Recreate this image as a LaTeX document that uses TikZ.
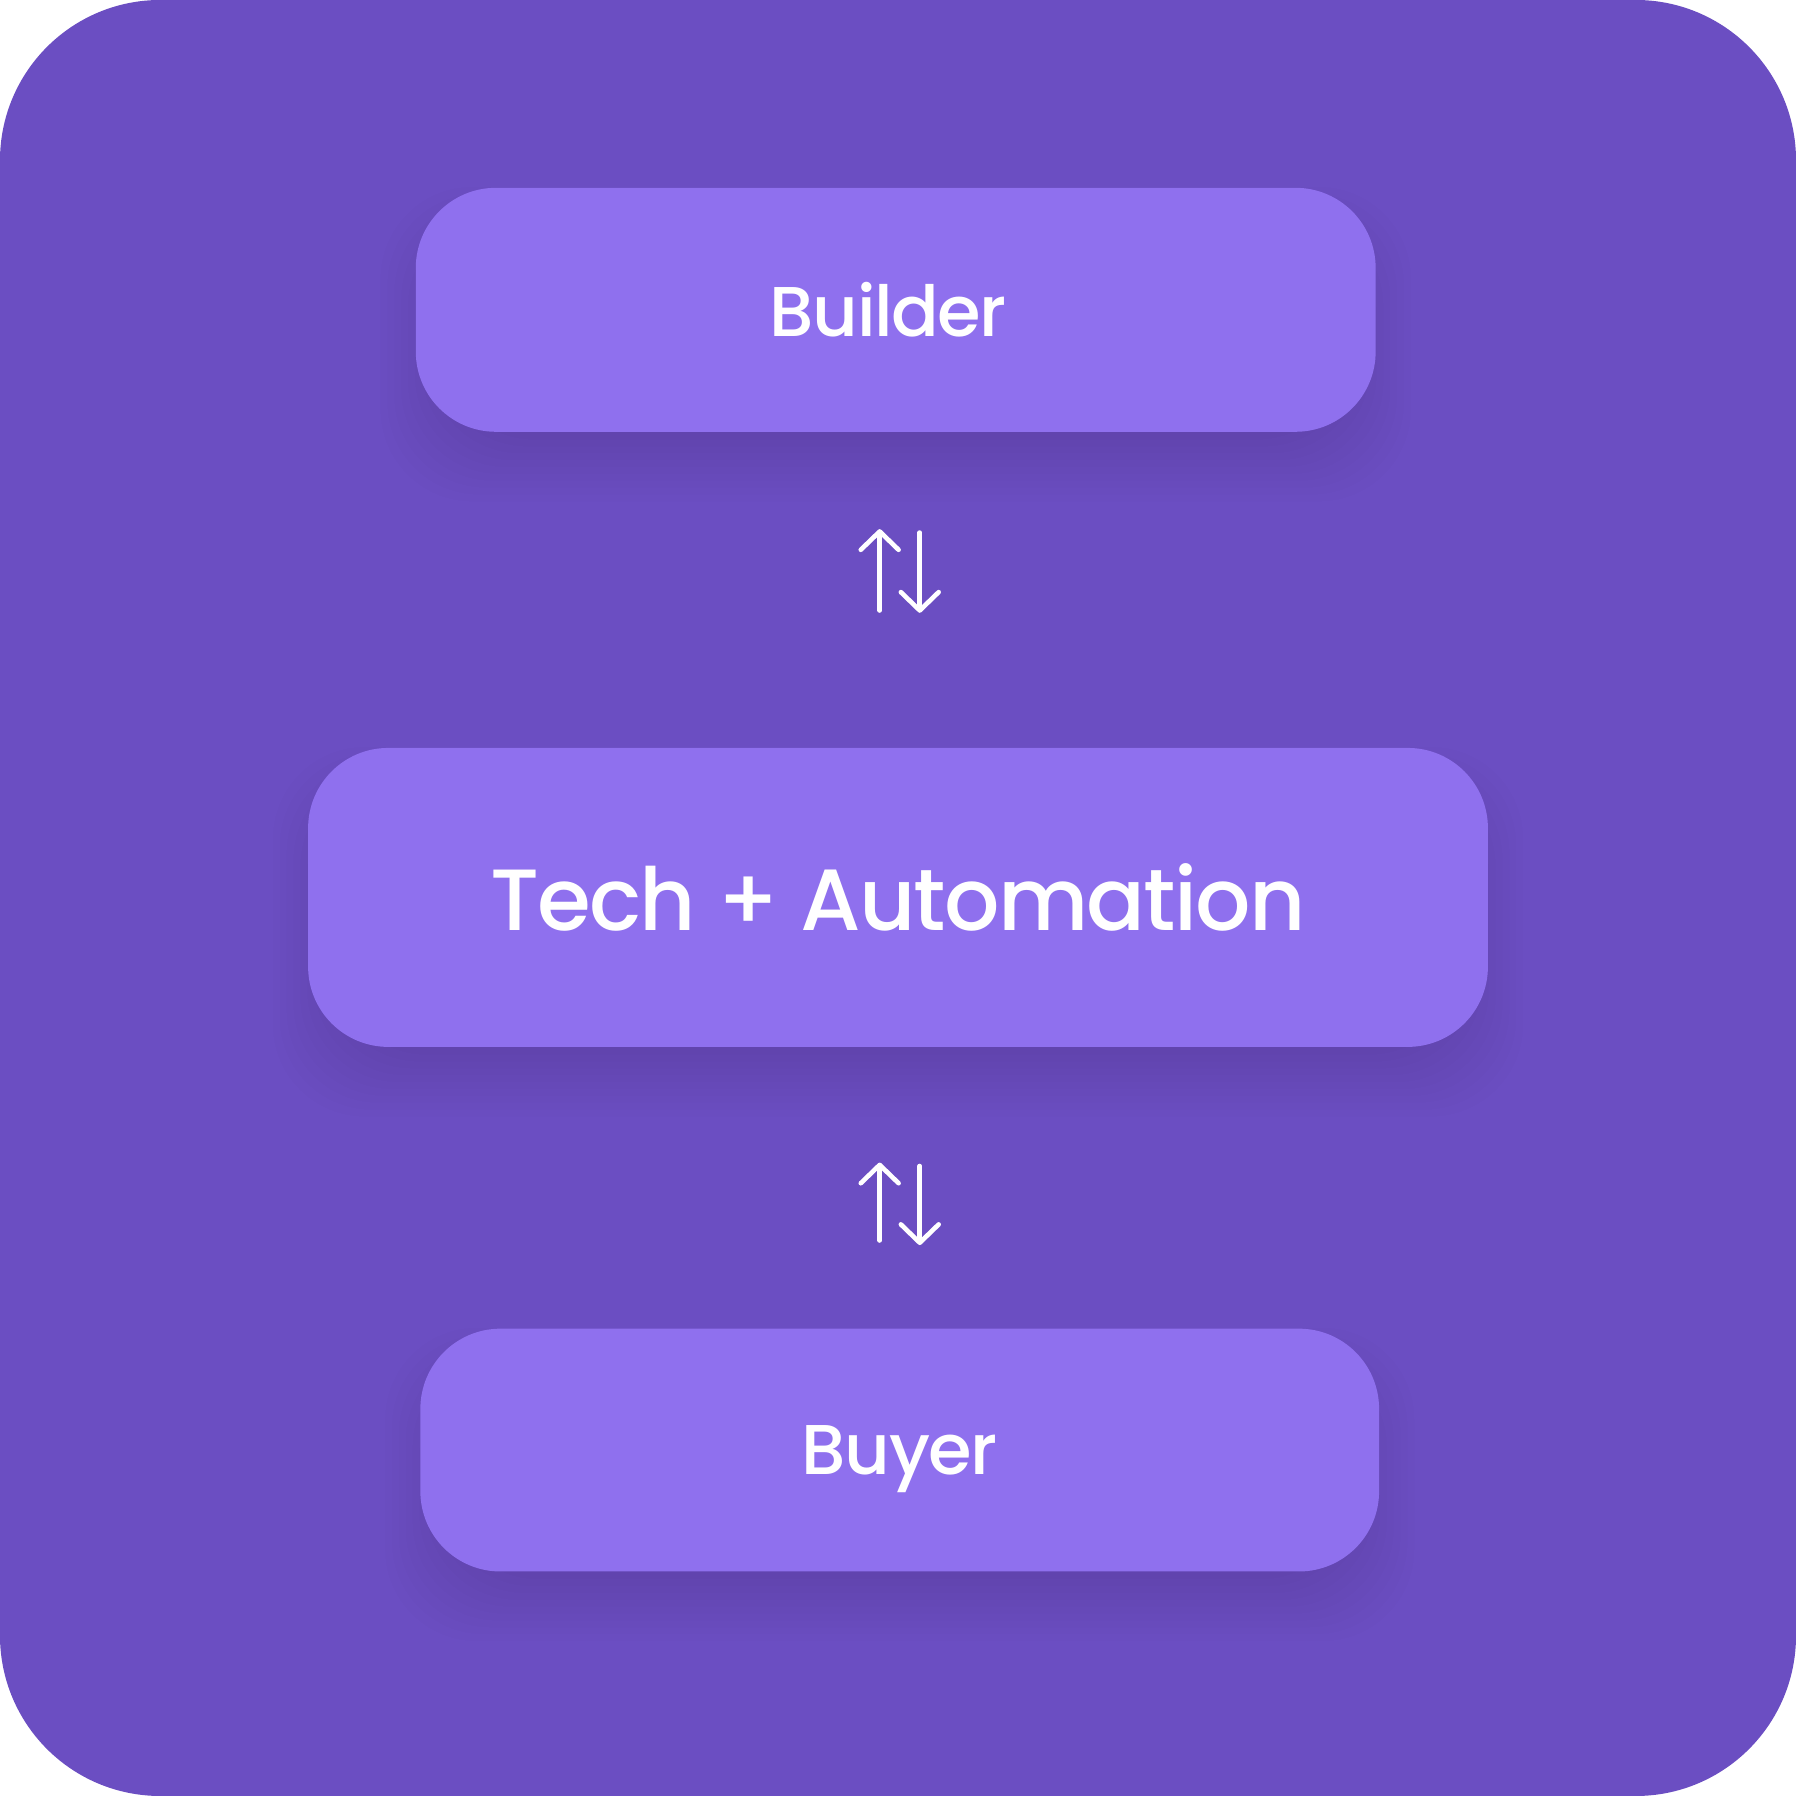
\documentclass[tikz,border=0pt]{standalone}
\usepackage{fontspec}
\setmainfont{Poppins Medium}[LetterSpace=-2]
\usetikzlibrary{arrows.meta,calc}

\definecolor{canvasbg}{HTML}{6B4EC2}
\definecolor{boxfill}{HTML}{8F70EE}

\pgfdeclarelayer{back}
\pgfdeclarelayer{shade}
\pgfsetlayers{back,shade,main}

\tikzset{
  stage/.style={fill=boxfill,rounded corners=0.7cm,inner sep=0pt,text=white},
  flow/.style={draw=white,line width=1.15pt,line cap=round,line join=round,
    -{Straight Barb[length=1.6mm,width=3.3mm,line cap=round,line join=round]}}
}

\newcommand{\softshadow}[1]{%
  \foreach \k in {-4,...,5}{
    \fill[black,opacity=0.008,rounded corners=0.8cm]
      ($(#1.south west)+(-0.06*\k,-0.3-0.06*\k)$) rectangle
      ($(#1.north east)+(0.06*\k,-0.3+0.06*\k)$);
  }}

\begin{document}
\begin{tikzpicture}
\begin{pgfonlayer}{back}
\fill[canvasbg,rounded corners=1.4cm] (0,0) rectangle (15.68,15.68);
\end{pgfonlayer}

\node[stage,minimum width=8.38cm,minimum height=2.13cm,font=\fontsize{17.5}{20}\selectfont] (builder) at (7.82,12.975) {\hspace*{-0.13cm}Builder};
\node[stage,minimum width=10.30cm,minimum height=2.61cm,font=\fontsize{21.6}{26}\selectfont] (tech) at (7.84,7.845) {Tech + Automation};
\node[stage,minimum width=8.37cm,minimum height=2.12cm,text depth=0pt,font=\fontsize{17.5}{20}\selectfont] (buyer) at (7.855,3.02) {Buyer};

\begin{pgfonlayer}{shade}
\softshadow{builder}
\softshadow{tech}
\softshadow{buyer}
\end{pgfonlayer}

% arrows between builder and tech
\coordinate (upA1) at (7.68,10.35);
\coordinate (upA2) at (7.68,11.06);
\coordinate (dnA1) at (8.03,11.03);
\coordinate (dnA2) at (8.03,10.33);
\draw[flow] (upA1) -- (upA2);
\draw[flow] (dnA1) -- (dnA2);

% arrows between tech and buyer
\coordinate (upB1) at (7.68,4.85);
\coordinate (upB2) at (7.68,5.53);
\coordinate (dnB1) at (8.03,5.50);
\coordinate (dnB2) at (8.03,4.81);
\draw[flow] (upB1) -- (upB2);
\draw[flow] (dnB1) -- (dnB2);
\end{tikzpicture}
\end{document}
